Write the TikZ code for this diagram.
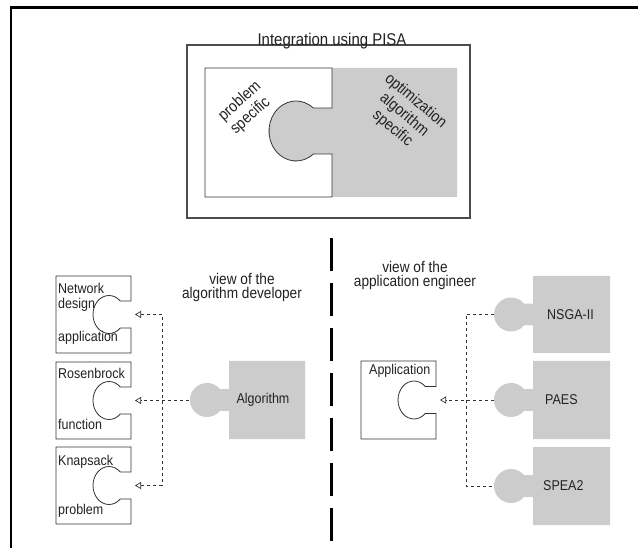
\documentclass[tikz,border=0pt]{standalone}
\usepackage{fontspec}
\setmainfont[FakeStretch=0.88]{Liberation Sans}
\usetikzlibrary{arrows.meta}

\definecolor{pcgray}{HTML}{CCCCCC}
\definecolor{ink}{HTML}{222222}

% knob on a vertical edge at x=#1, centred at y=#2; head centre #3 left of
% the edge, radii #4/#5, neck leaving the head at angle #6
\newcommand{\knobto}[6]{%
  -- (#1,{#2+#5*sin(#6)})
  -- ({#1-#3+#4*cos(#6)},{#2+#5*sin(#6)})
  arc[start angle=#6, end angle={360-#6}, x radius=#4, y radius=#5]
  -- (#1,{#2-#5*sin(#6)})}

% outlined piece with a socket on its right side: left, top, right, bottom
\newcommand{\socketpiece}[4]{%
  \pgfmathsetmacro{\knobcy}{(#2+#4)/2}%
  \draw[holepc] (#1,#2) -- (#1,#4) -- (#3,#4)
    \knobto{#3}{\knobcy}{22}{16}{19}{45} -- (#3,#2) -- cycle;}

% grey piece with a plug on its left side: left, top, right, bottom
\newcommand{\plugpiece}[4]{%
  \pgfmathsetmacro{\knobcy}{(#2+#4)/2}%
  \fill[graypc] (#3,#2) -- (#3,#4) -- (#1,#4)
    \knobto{#1}{\knobcy}{22}{17}{17}{40} -- (#1,#2) -- cycle;}

\tikzset{
  holepc/.style={fill=white, draw=black!80, line width=0.8pt},
  graypc/.style={fill=pcgray},
  conn/.style={draw=black!80, line width=0.7pt, dash pattern=on 3pt off 3pt},
  opentip/.style={-{Triangle[open, length=6pt, width=7pt]}},
  lbl/.style={font=\fontsize{14.2}{15}\selectfont, text=ink, inner sep=0pt},
  head/.style={font=\fontsize{15.5}{14}\selectfont, text=ink, inner sep=0pt, align=center},
  slant/.style={font=\fontsize{16}{18}\selectfont, text=ink, inner sep=0pt},
}

\begin{document}
\begin{tikzpicture}[x=1pt, y=-1pt]
\useasboundingbox (0,0) rectangle (638,548);
\fill[white] (0,0) rectangle (638,548);

% page frame and separator
\draw[line width=2.2pt] (11,548) -- (11,7.5) -- (638,7.5);
\draw[line width=3pt, dash pattern=on 33pt off 12pt] (331,238) -- (331,541);

% integration box
\draw[draw=black!70, line width=1.3pt] (187,45) rectangle (470,218);
\node[font=\fontsize{17}{18}\selectfont, text=ink, inner sep=0pt, anchor=base]
  (title) at (332,46) {Integration using PISA};
\fill[graypc] (457,68) -- (457,197) -- (332,197)
  \knobto{332}{131}{36}{27}{30}{50} -- (332,68) -- cycle;
\draw[holepc] (205,68) -- (205,197) -- (332,197)
  \knobto{332}{131}{36}{27}{30}{50} -- (332,68) -- cycle;
\node[slant, rotate=42, align=left] (probspec) at (246,108) {problem\\specific};
\node[slant, rotate=-40, align=center] (optspec) at (404,115)
  {optimization\\algorithm\\specific};

% view of the algorithm developer
\node[head] (viewalg) at (242,287) {view of the\\algorithm developer};
\socketpiece{56}{276}{131}{353}
\socketpiece{56}{362}{131}{439}
\socketpiece{56}{447}{131}{524}
\node[lbl, anchor=base west] (net1) at (58,294) {Network};
\node[lbl, anchor=base west] (net2) at (58,309) {design};
\node[lbl, anchor=base west] (net3) at (58,342) {application};
\node[lbl, anchor=base west] (ros1) at (58,379) {Rosenbrock};
\node[lbl, anchor=base west] (ros2) at (58,429) {function};
\node[lbl, anchor=base west] (kn1) at (58,465) {Knapsack};
\node[lbl, anchor=base west] (kn2) at (58,514) {problem};
\plugpiece{229}{361}{305}{439}
\node[lbl] (alg) at (263,400) {Algorithm};

\coordinate (net-in) at (135,314.5);
\coordinate (ros-in) at (135,400.5);
\coordinate (kn-in) at (135,485.5);
\coordinate (jl-top) at (162,314.5);
\coordinate (jl-bot) at (162,485.5);
\coordinate (alg-tip) at (189,400.5);
\draw[conn, {Triangle[open, length=6pt, width=7pt]}-{Triangle[open, length=6pt, width=7pt]}]
  (net-in) -- (jl-top) -- (jl-bot) -- (kn-in);
\draw[conn, opentip] (alg-tip) -- (ros-in);

% view of the application engineer
\node[head] (viewapp) at (415,275) {view of the\\application engineer};
\socketpiece{361}{361}{436}{439}
\node[lbl, anchor=base west] (app) at (369,375) {Application};
\plugpiece{533}{276}{610}{353}
\plugpiece{533}{361}{610}{439}
\plugpiece{533}{447}{610}{525}
\node[lbl, anchor=west] (nsga) at (547,314.5) {NSGA-II};
\node[lbl, anchor=west] (paes) at (545,400) {PAES};
\node[lbl, anchor=west] (spea) at (543,486) {SPEA2};

\coordinate (app-in) at (440,400);
\coordinate (jr-top) at (466,314.5);
\coordinate (jr-bot) at (466,486);
\coordinate (nsga-tip) at (494,314.5);
\coordinate (paes-tip) at (494,400);
\coordinate (spea-tip) at (494,486);
\draw[conn] (nsga-tip) -- (jr-top) -- (jr-bot) -- (spea-tip);
\draw[conn, opentip] (paes-tip) -- (app-in);
\end{tikzpicture}
\end{document}
